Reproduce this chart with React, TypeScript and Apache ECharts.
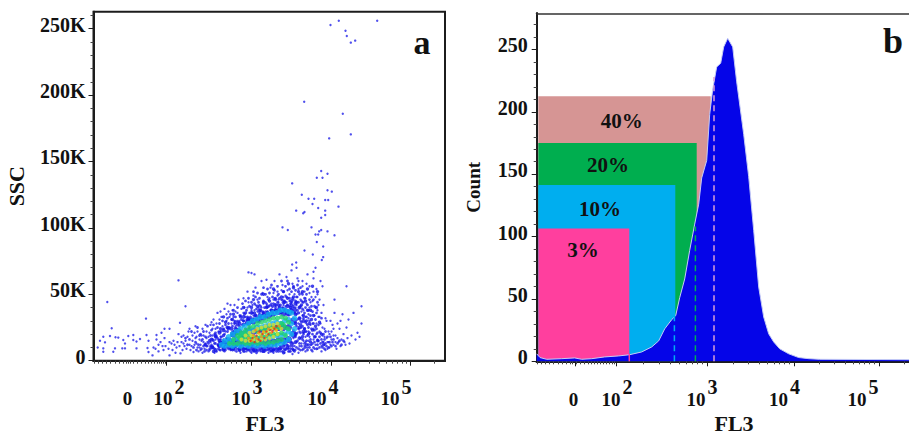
import React, { useEffect, useRef } from "react";
import * as echarts from "echarts";

const FONT = "'Liberation Serif'";

// ---- shared tick text
const logLabels = ["{n|0}{g| }", "{n|10}{s|2}", "{n|10}{s|3}", "{n|10}{s|4}", "{n|10}{s|5}"];
const ssTicks = [0, 50, 100, 150, 200, 250];
const ssMinor = [10, 20, 30, 40, 60, 70, 80, 90, 110, 120, 130, 140, 160, 170, 180, 190, 210, 220, 230, 240, 260];
const countTicks = [0, 50, 100, 150, 200, 250];
const countMinor = [10, 20, 30, 40, 60, 70, 80, 90, 110, 120, 130, 140, 160, 170, 180, 190, 210, 220, 230, 240, 260, 270];

// ---- panel a: FL3 scale expressed in display channels
const aMajor = [73.2, 158.2, 238.2, 317.2];
const aMinor = [1, 5, 9, 13, 17, 22, 26, 30, 33, 35, 37, 40, 44, 48, 52, 55, 58, 61, 64, 66, 68, 70, 72, 98, 113, 123, 131, 138, 143, 148, 153, 182, 196, 206, 213, 220, 225, 230, 234, 262, 276, 286, 293, 299, 304, 309, 313, 341];
const aLabelAt = [34.5, 75.5, 153.5, 229.5, 302.5];
const bMajor = [38.3, 79.6, 171, 257.6, 342.3];
const bMinor = [1, 5, 9, 13, 17, 22, 26, 30, 34, 36, 40, 44, 48, 52, 55, 58, 61, 64, 67, 70, 73, 76, 78, 107, 123, 134, 143, 150, 156, 161, 166, 197, 212, 223, 231, 238, 243, 248, 253, 283, 298, 309, 317, 323, 328, 333, 338, 368];
const bLabelAt = [37.3, 80.3, 165.3, 247.8, 326.3];

// ---- panel a: sparse events
const outliers = [[245.3,256],[237,252.8],[283.7,256],[252,248.5],[253.3,244.5],[261.7,241],[257.3,239.5],[210.7,195],[249.3,186],[257.3,170.4],[235.7,167.4],[227.7,142.8],[234,140.8],[223.3,137.8],[229,137.8],[198.7,133.5],[234,128.3],[238.3,127.3],[208.3,125],[215,122],[220.7,122],[231.7,121],[234.7,121],[219,118],[224.7,115],[245,116],[202.7,113],[231.7,113],[211,112],[209.7,111],[231.7,109.7],[227.7,107.7],[189,100.4],[194.3,98.4],[218,100.4],[227.7,98.4],[225.7,97.4],[234,97.4],[222,95],[224.7,95],[241,94.4],[223.3,89.4],[229.7,86],[211,83],[219.3,80],[229.7,78],[228.3,75.8],[202.7,74],[198.7,72.4],[203,70],[222,70],[220,67],[155,66.5],[158,66],[161,65],[85,60.5],[253,56],[229,56],[241,46],[92,41],[268,41]];

// ---- panel a: left and middle of the population
const cloudLeft = [[13.8,44.2],[52.5,31.7],[18.2,24.4],[86.5,28.6],[9.8,18],[6.5,15],[16.5,18.6],[22,17.6],[24.8,17.4],[34.8,18.6],[39.8,19.4],[29.8,15.6],[39.8,15.6],[31.5,13],[43,14.4],[46.5,16.4],[11.5,13.8],[4.2,10],[9.8,9.3],[9.8,6.8],[19.8,6.8],[21.5,9.3],[28.8,9.3],[31.5,9.3],[43,9.3],[53,19.4],[63,19.4],[68,21],[71,24],[76,24],[55,15],[63,16],[71,17],[54,9.5],[55,6.5],[59,4],[65,12],[67,14],[69,11],[72,11],[76,14],[75,9],[65,7],[70,8],[76,4],[60,10],[62,9],[78,13],[80,15],[81,12],[83,10],[84,14],[79,8],[82,6],[86,11],[88,14],[90,13],[89,8],[87,5.5],[92,15],[85,20],[90,19],[94,18],[95,22],[96,12],[98,11],[99,15],[97,8],[101,21],[102,17],[103,13],[104,10],[100,6.5],[105,7],[106,16],[107,12],[108,19],[109,24],[110,14],[111,9],[112,27],[113,17],[114,11],[115,7],[116,21],[117,14],[118,29],[119,19],[120,10],[121,6],[109,6],[113,22],[116,9],[119,24],[122,16],[124,12],[125,22],[126,8],[123,28],[127,18],[128,33],[129,26],[129,10],[131,7],[132,22],[133,30],[134,25],[135,37],[136,11],[137,8],[138,28],[139,20],[140,33],[141,42],[142,26],[143,9],[144,36],[145,46],[146,30],[147,6],[148,39],[149,8],[126,31],[122,24],[120,31],[117,27],[115,18],[112,13],[110,19],[107,8],[104,22],[102,26],[99,19],[96,24],[93,9],[91,11],[88,18],[124,36],[127,37],[131,39],[134,43],[137,42],[139,38],[133,35],[136,33],[142,37],[128,14],[130,16],[125,16],[121,20],[118,12],[114,14],[111,12],[108,15],[106,10],[103,18],[101,12]];

// ---- panel a: centre and right of the population
const cloudRight = [[150,47],[151,40],[152,33],[153,7],[154,52],[155,44],[156,36],[157,9],[158,6],[159,42],[160,49],[161,38],[162,55],[163,8],[164,46],[165,40],[166,33],[167,7],[168,60],[169,51],[170,43],[171,9],[172,37],[173,61],[174,48],[175,6],[176,41],[177,55],[178,34],[179,8],[180,46],[181,60],[182,38],[183,10],[184,52],[185,44],[186,65],[187,7],[188,36],[189,57],[190,48],[191,11],[192,41],[193,63],[194,53],[195,9],[196,45],[197,39],[198,68],[199,58],[200,13],[201,50],[202,8],[203,42],[204,62],[205,54],[206,11],[207,46],[208,37],[209,60],[210,15],[211,52],[212,7],[213,43],[214,65],[215,35],[216,56],[217,12],[218,48],[219,28],[220,62],[221,9],[222,40],[223,54],[224,16],[225,33],[226,46],[227,60],[228,11],[229,25],[230,42],[231,18],[232,8],[233,30],[234,14],[235,22],[236,10],[238,16],[239,27],[240,12],[241,36],[242,19],[243,9],[245,14],[246,24],[247,11],[249,35],[250,20],[252,12],[254,17],[255,31],[256,13],[258,19],[260,36],[262,16],[264,21],[266,18],[268,28],[222,12],[226,22],[230,14],[234,9],[238,22],[242,14],[215,22],[218,12],[212,18],[208,25],[205,28],[203,14],[200,8],[196,7],[192,8],[188,9],[184,8],[180,6],[176,9],[172,8],[168,10],[164,7],[160,7],[156,8],[152,9],[148,12],[146,10],[142,11],[203,35],[207,30],[210,38],[213,28],[216,40],[219,45],[222,48],[224,38],[227,28],[229,19],[231,24],[233,17],[235,14],[237,12],[215,15],[211,11],[207,17],[204,21],[200,17],[197,11],[194,12],[191,6],[187,11],[183,13],[179,11],[175,11],[171,12],[167,12],[163,11],[159,11],[155,11],[151,12],[147,15],[143,14],[139,11],[135,10],[131,11],[127,11],[152,28],[156,31],[160,34],[164,37],[168,40],[172,44],[176,47],[180,51],[184,49],[188,53],[192,49],[196,50],[200,46],[204,48],[208,51],[212,47],[216,51],[220,52],[224,50],[206,40],[209,44],[198,44],[194,38],[190,42],[186,40],[182,42],[178,43],[174,40],[170,36],[166,42],[162,42],[158,38],[154,40],[150,36],[146,34],[144,30],[141,30],[213,58],[209,56],[205,60],[217,44],[221,34],[225,42],[228,36],[232,32],[236,20],[240,19],[244,17],[248,16],[251,14],[253,25],[247,30],[244,28],[240,24],[237,30],[231,12],[228,7],[224,9],[219,7],[214,10],[209,8],[205,6],[199,5],[195,15],[191,14],[187,14],[201,11],[198,14],[208,13],[212,14],[216,18],[220,16],[223,20],[206,22],[210,21],[213,22],[217,27],[220,24],[223,28],[226,33],[215,32],[212,33],[209,34],[204,31],[202,40],[199,38],[196,41],[193,44],[189,46],[185,46],[181,47],[177,38],[173,35],[169,33],[165,30]];

// ---- panel a: the crowded part of the blue population
const cloudDense = [[92,17],[94,12],[96,16],[98,22],[100,10],[102,14],[104,25],[105,12],[107,20],[108,9],[109,16],[110,22],[111,7],[112,18],[113,11],[114,26],[115,13],[116,8],[117,19],[118,23],[119,11],[120,15],[120,27],[121,9],[122,13],[122,21],[123,7],[124,17],[124,25],[125,11],[126,14],[126,28],[127,8],[127,22],[128,12],[128,18],[129,30],[130,10],[130,24],[131,14],[131,20],[132,8],[132,27],[133,12],[133,17],[134,22],[134,32],[135,9],[135,28],[136,15],[136,25],[137,11],[137,35],[138,19],[138,31],[139,8],[139,26],[140,13],[140,22],[140,38],[141,10],[141,28],[142,17],[142,33],[143,7],[143,24],[144,12],[144,40],[145,20],[145,29],[146,8],[146,26],[147,11],[147,34],[148,18],[148,31],[149,10],[149,27],[149,43],[150,7],[150,30],[151,9],[151,35],[152,24],[152,45],[153,11],[153,38],[154,28],[154,33],[155,8],[155,47],[156,25],[156,41],[157,7],[157,33],[158,29],[158,44],[159,9],[159,36],[160,31],[160,52],[161,7],[161,43],[162,34],[162,48],[163,10],[163,39],[164,30],[164,51],[165,8],[165,44],[166,36],[166,47],[167,9],[167,41],[168,34],[168,50],[169,7],[169,37],[170,45],[170,55],[171,10],[171,40],[172,33],[172,50],[173,8],[173,43],[174,37],[174,54],[175,9],[175,46],[176,35],[176,51],[177,7],[177,42],[178,38],[178,57],[179,10],[179,48],[180,36],[180,43],[181,8],[181,53],[182,40],[182,47],[183,7],[183,37],[184,44],[184,56],[185,9],[185,50],[186,38],[186,47],[187,11],[187,42],[188,46],[188,60],[189,7],[189,40],[190,37],[190,52],[191,9],[191,45],[192,39],[192,56],[193,12],[193,48],[194,42],[194,60],[195,7],[195,35],[196,47],[196,54],[197,9],[197,43],[198,37],[198,52],[199,11],[199,47],[200,41],[200,56],[200,23],[201,7],[201,36],[202,18],[202,45],[202,53],[203,10],[203,26],[203,48],[204,15],[204,38],[204,57],[205,9],[205,24],[205,44],[206,13],[206,32],[206,50],[207,8],[207,21],[207,41],[207,55],[208,11],[208,29],[208,45],[209,16],[209,26],[209,39],[209,50],[210,9],[210,20],[210,32],[210,44],[211,13],[211,24],[211,36],[211,47],[212,10],[212,22],[212,29],[212,40],[213,15],[213,33],[213,50],[214,8],[214,19],[214,27],[214,42],[215,12],[215,25],[215,38],[216,10],[216,21],[216,30],[216,46],[217,16],[217,34],[218,8],[218,24],[218,41],[219,13],[219,20],[219,37],[220,10],[220,28],[220,46],[221,14],[221,23],[221,41],[222,18],[222,31],[223,9],[223,24],[223,36],[224,12],[224,21],[224,44],[225,15],[225,27],[226,10],[226,18],[227,13],[227,21],[228,16],[228,32],[229,10],[229,14],[230,20],[231,9],[231,16],[232,13],[232,22],[233,11],[234,18],[235,10],[236,14],[237,18],[238,11],[239,14],[240,16],[242,11],[244,13],[246,15],[248,12],[250,15],[103,8],[106,19],[110,11],[113,8],[117,11],[119,16],[121,13],[123,18],[125,9],[127,16],[129,13],[131,9],[133,10],[135,13],[137,9],[139,13],[141,8],[143,11],[145,9],[147,9],[149,12],[151,7],[153,9],[155,10],[157,11],[159,8],[161,10],[163,6],[165,10],[167,8],[169,9],[171,7],[173,10],[175,8],[177,10],[179,7],[181,9],[183,9],[185,7],[187,9],[189,10],[191,8],[193,9],[195,11],[197,7],[199,9]];

// ---- panel a: clumps of overlapping events around the core
const cloudThick = [[112,12],[116,15],[119,10],[122,18],[125,12],[127,24],[130,19],[132,29],[135,24],[137,14],[139,31],[142,21],[144,27],[147,33],[150,30],[152,36],[155,32],[158,40],[161,36],[164,41],[167,38],[170,44],[173,40],[176,45],[179,41],[182,46],[185,42],[188,48],[191,44],[194,47],[197,40],[200,48],[203,44],[205,36],[207,27],[208,42],[209,18],[210,34],[211,24],[212,45],[213,12],[213,30],[214,38],[215,20],[216,28],[217,14],[217,38],[218,31],[219,23],[220,34],[221,18],[222,26],[223,40],[224,15],[226,29],[228,20],[230,12],[209,52],[214,54],[219,56],[224,52],[200,55],[205,52],[190,52],[195,58],[180,54],[170,50],[160,46],[150,40],[140,35],[130,33],[200,8],[190,6],[180,8],[170,7],[160,8],[150,9],[140,9],[130,8],[120,7]];

// ---- panel a: density layers, thin to thick
const deepFill = [[130,13],[135,15],[140,14],[140,20],[145,14],[145,22],[150,14],[150,20],[155,14],[155,22],[155,29],[160,14],[160,22],[160,30],[165,14],[165,23],[165,31],[170,14],[170,23],[170,33],[175,14],[175,25],[175,34],[180,14],[180,25],[180,36],[185,15],[185,25],[185,37],[190,15],[190,25],[190,36],[195,16],[195,25],[195,36],[200,20],[200,30],[200,38]];
const deepDensity = [[118,10],[118,16],[122,8],[122,19],[126,11],[126,15],[126,21],[130,9],[130,14],[130,23],[134,12],[134,25],[138,9],[138,24],[142,11],[142,24],[142,29],[146,8],[146,28],[150,12],[150,27],[150,33],[154,9],[154,31],[158,11],[158,31],[158,36],[162,8],[162,34],[166,12],[166,34],[166,38],[170,9],[170,36],[174,11],[174,36],[174,41],[178,8],[178,38],[182,12],[182,38],[182,42],[186,9],[186,40],[190,12],[190,39],[190,44],[194,10],[194,41],[198,13],[198,42],[198,45],[202,14],[202,20],[202,28],[202,35],[202,43],[206,17],[206,25],[206,32],[206,40],[210,22],[210,30]];
const cyanDensity = [[128,12],[131,11],[131,15],[135,12],[135,18],[139,11],[139,15],[139,20],[143,12],[143,22],[147,11],[147,16],[147,24],[151,12],[151,26],[155,11],[155,17],[155,28],[159,12],[159,30],[163,11],[163,31],[167,12],[167,33],[171,11],[171,33],[175,12],[175,35],[179,12],[179,36],[183,12],[183,36],[187,13],[187,38],[191,14],[191,38],[195,16],[195,37],[198,20],[198,28],[198,36],[201,24],[201,32],[135,15],[143,17],[147,20],[151,16],[151,21],[155,22],[159,16],[159,23],[163,17],[163,25],[167,17],[167,25],[171,17],[171,26],[175,18],[175,27],[179,18],[179,28],[183,19],[183,29],[187,19],[187,28],[191,20],[191,30],[195,22],[195,31]];
const greenDensity = [[136,13],[140,13],[140,16],[144,13],[144,19],[148,14],[148,21],[152,13],[152,17],[152,23],[156,13],[156,25],[160,14],[160,26],[164,13],[164,28],[168,14],[168,29],[172,13],[172,30],[176,14],[176,31],[180,14],[180,32],[184,15],[184,32],[188,16],[188,33],[192,19],[192,32],[195,24],[195,29],[146,17],[156,19],[164,22],[172,24],[180,25],[186,25],[190,27],[176,20],[184,20],[188,21],[148,18],[152,20],[156,16],[160,18],[164,17],[168,19],[168,24],[172,18],[172,22],[176,25],[180,20],[184,25],[188,28],[192,25]];
const yellowDensity = [[148,16],[152,15],[152,19],[156,15],[156,21],[160,16],[160,22],[164,15],[164,24],[168,16],[168,25],[172,16],[172,26],[176,17],[176,27],[180,18],[180,27],[184,20],[184,28],[188,24],[158,19],[166,20],[174,22],[182,23],[170,21],[178,24]];
const orangeDensity = [[155,17],[158,15],[160,19],[163,17],[165,21],[168,18],[170,22],[173,19],[175,24],[178,21],[180,25],[183,23],[162,23],[186,26]];
const redDensity = [[157,15],[159,17],[161,14],[163,19],[165,16],[167,15],[169,20],[171,17],[173,22],[175,20],[177,23],[179,22],[181,24],[166,22],[183,26]];

// ---- panel b: histogram
const histX = [0,3.3,10,25,38,45,55,68,82,93,105,115,122,128,135,139,143,148,153,158,162,165,170,173,176,180,184,187,191,196,200,207,212,217,222,227,232,237,243,252,262,272,283,372.3];
const histY = [6,3,1.6,2.1,2.7,1.6,2.1,3.5,4.3,5.3,7.5,11.5,16.4,26,33.4,36.6,51,66,89,110,126,147,161,198,218,236,239,252,259,252,224,182,148,105,59.5,35.5,22,15.5,10,6,3,2.1,1.6,1.3];
const gateNames = ["40%", "20%", "10%", "3%"];
const gateEnds = [174, 160, 138.6, 92.6];
const gateHeights = [212.5, 175, 141.4, 106.4];
const markerEnds = [137.7, 158.7, 177.3];
const markerHeights = [37, 108, 228];

const BLACK = "#1c1c1c";
const labelStyle = { fontFamily: FONT, fontWeight: "bold" as const, color: "#111", fontSize: 19 };
const rich = {
  n: { fontFamily: FONT, fontWeight: "bold" as const, color: "#111", fontSize: 19, lineHeight: 24 },
  s: { fontFamily: FONT, fontWeight: "bold" as const, color: "#111", fontSize: 20, lineHeight: 24, padding: [0, 0, 24, 2] },
  g: { fontFamily: FONT, fontSize: 4, lineHeight: 24, padding: [0, 0, 24, 0] },
  v: { fontFamily: FONT, fontWeight: "bold" as const, color: "#111", fontSize: 20, padding: [0, 0, 8, 0] },
};

function xAxes(gridIndex: number, max: number, major: number[], minor: number[], labelAt: number[]) {
  const base = { type: "value", gridIndex, min: 0, max, position: "bottom", splitLine: { show: false }, axisLine: { show: true, onZero: false, lineStyle: { color: BLACK, width: 2 } } };
  return [
    {
      ...base,
      axisTick: { show: true, length: 5, customValues: major, lineStyle: { color: BLACK, width: 1 } },
      axisLabel: {
        show: true, customValues: labelAt, margin: 26, hideOverlap: false, ...labelStyle, rich,
        formatter: (v: number) => logLabels[labelAt.indexOf(v)] ?? "",
      },
    },
    {
      ...base,
      axisTick: { show: true, length: 3, customValues: minor, lineStyle: { color: "#444", width: 1 } },
      axisLabel: { show: false },
    },
  ];
}

function yAxes(gridIndex: number, max: number, major: number[], minor: number[], name: string, suffix: string, gap: number, nameSize: number, margin: number) {
  const base = { type: "value", gridIndex, min: 0, max, position: "left", splitLine: { show: false }, axisLine: { show: true, onZero: false, lineStyle: { color: BLACK, width: 2 } } };
  return [
    {
      ...base,
      name, nameLocation: "middle", nameGap: gap,
      nameTextStyle: { fontFamily: FONT, fontWeight: "bold", color: "#111", fontSize: nameSize },
      axisTick: { show: true, length: 5, customValues: major, lineStyle: { color: BLACK, width: 1 } },
      axisLabel: {
        show: true, customValues: major, margin, hideOverlap: false, ...labelStyle, rich,
        formatter: (v: number) => `{v|${v === 0 ? "0" : `${v}${suffix}`}}`,
      },
    },
    {
      ...base,
      axisTick: { show: true, length: 3, customValues: minor, lineStyle: { color: "#444", width: 1 } },
      axisLabel: { show: false },
    },
  ];
}

function dots(name: string, data: number[][], color: string, size: number, z: number) {
  return { name, type: "scatter", xAxisIndex: 0, yAxisIndex: 0, data, symbol: "circle", symbolSize: size, itemStyle: { color }, silent: true, z };
}

export default function App() {
  const ref = useRef<HTMLDivElement>(null);
  useEffect(() => {
    const chart = echarts.init(ref.current!, undefined, { renderer: "svg" });
    const gateColors = ["#D69594", "#00AE4F", "#00AEEF", "#FF3F9E"];
    const markerColors = ["#00AEEF", "#00B050", "#D8A0D4"];
    const hist = histX.map((x, i) => [x, histY[i]]);
    const gateSeries = gateEnds.map((end, i) => ({
      name: gateNames[i], type: "line", xAxisIndex: 2, yAxisIndex: 2, symbol: "none", silent: true, z: 2 + i,
      data: [[1.6, gateHeights[i]], [end, gateHeights[i]]],
      lineStyle: { width: 0 }, areaStyle: { color: gateColors[i], opacity: 1, origin: "start" },
    }));
    const markerSeries = markerEnds.map((end, i) => ({
      type: "line", xAxisIndex: 2, yAxisIndex: 2, symbol: "none", silent: true, z: 9,
      data: [[end, 0], [end, markerHeights[i]]],
      lineStyle: { color: markerColors[i], width: 1.5, type: [6, 4] },
    }));
    const txt = (text: string, x: number, y: number, fontSize: number) => ({
      type: "text", x, y, silent: true, z: 20,
      style: { text, fontFamily: FONT, fontWeight: "bold", fontSize, fill: "#111", textAlign: "center", textVerticalAlign: "middle" },
    });
    chart.setOption({
      animation: false,
      backgroundColor: "#fff",
      grid: [
        { left: 93.5, top: 11.7, width: 351.5, height: 349, show: true, borderColor: BLACK, borderWidth: 2, backgroundColor: "transparent" },
        { left: 536.7, top: 13.3, width: 372.3, height: 348, show: false },
      ],
      xAxis: [
        ...xAxes(0, 351.5, aMajor, aMinor, aLabelAt),
        ...xAxes(1, 372.3, bMajor, bMinor, bLabelAt),
        { type: "value", gridIndex: 1, min: 0, max: 372.3, position: "top", axisLine: { show: true, onZero: false, lineStyle: { color: "#333", width: 1.5 } }, axisTick: { show: false }, axisLabel: { show: false }, splitLine: { show: false } },
      ],
      yAxis: [...yAxes(0, 262.8, ssTicks, ssMinor, "SSC", "K", 66, 22, 8), ...yAxes(1, 279, countTicks, countMinor, "Count", "", 54, 19, 9)],
      series: [
        dots("Outliers", outliers, "#2424e8", 2.4, 2),
        dots("Population left", cloudLeft, "#2424e8", 2.4, 2),
        dots("Population right", cloudRight, "#2424e8", 2.4, 2),
        dots("Population dense", cloudDense, "#1c1ce8", 2.8, 2),
        dots("Population thick", cloudThick, "#1414e6", 3.4, 2),
        dots("Deep fill", deepFill, "#1414e6", 7, 3),
        dots("Deep", deepDensity, "#1414e6", 4, 3),
        dots("Cyan", cyanDensity, "#10b2ee", 5.5, 4),
        dots("Green", greenDensity, "#1fd26a", 5, 5),
        dots("Yellow", yellowDensity, "#d9e22e", 4, 6),
        dots("Orange", orangeDensity, "#fb9a10", 3, 7),
        dots("Red", redDensity, "#ee2a10", 2.4, 8),
        ...gateSeries,
        {
          name: "Count", type: "line", xAxisIndex: 2, yAxisIndex: 2, symbol: "none", silent: true, z: 8,
          data: hist, lineStyle: { color: "#c5ccf5", width: 1 }, areaStyle: { color: "#0505E8", opacity: 1, origin: "start" },
        },
        ...markerSeries,
        {
          type: "line", xAxisIndex: 2, yAxisIndex: 2, symbol: "none", silent: true, z: 9,
          data: [[gateEnds[3], 0], [gateEnds[3], 6]], lineStyle: { color: gateColors[3], width: 1.5 },
        },
      ],
      graphic: [
        txt("a", 422, 42, 34),
        txt("b", 893, 41, 36),
        txt("FL3", 265, 423, 22),
        txt("FL3", 734, 423, 22),
        txt(gateNames[0], 621.7, 121, 21),
        txt(gateNames[1], 608, 165, 21),
        txt(gateNames[2], 600, 209, 21),
        txt(gateNames[3], 583, 250, 21),
      ],
    });
    return () => chart.dispose();
  }, []);
  return <div ref={ref} style={{ position: "absolute", left: 0, top: 0, width: 909, height: 435 }} />;
}
